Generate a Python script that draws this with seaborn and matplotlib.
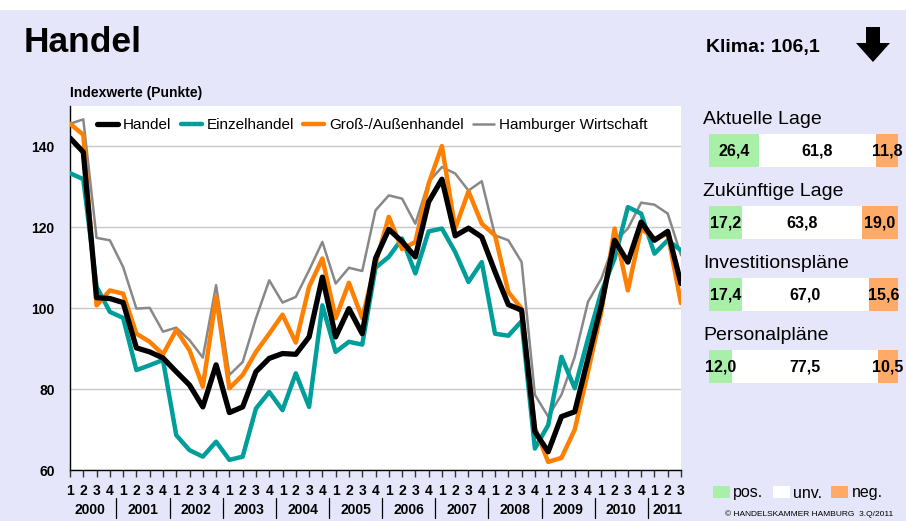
"""
Handel - Konjunkturklima chart
"""

import numpy as np
import pandas as pd
import seaborn as sns
import matplotlib.pyplot as plt
from matplotlib.patches import Rectangle, Polygon, Patch

# ---- data ----
quarters = ['1', '2', '3', '4'] * 11 + ['1', '2', '3']
years = ['2000', '2001', '2002', '2003', '2004', '2005', '2006', '2007',
         '2008', '2009', '2010', '2011']

handel = [142.1, 138.6, 102.6, 102.4, 101.4, 90.2, 89.2, 87.7, 84.3, 81.0, 75.6, 86.0,
          74.2, 75.6, 84.3, 87.6, 88.8, 88.6, 92.9, 107.7, 92.9, 99.9, 93.7, 112.3,
          119.5, 116.5, 112.7, 126.3, 131.9, 117.9, 119.8, 117.6, 109.0, 100.9, 99.5,
          69.5, 64.5, 73.2, 74.4, 87.6, 100.7, 116.8, 111.4, 121.3, 116.8, 119.0, 106.1]
einzel = [133.4, 131.9, 105.3, 99.1, 97.6, 84.7, 85.9, 87.2, 68.6, 64.9, 63.3, 67.0,
          62.5, 63.3, 75.2, 79.3, 74.8, 83.9, 75.6, 100.7, 89.2, 91.7, 91.0, 110.0,
          112.7, 117.2, 108.6, 119.0, 119.7, 113.9, 106.5, 111.4, 93.7, 93.2, 96.8,
          65.3, 71.1, 88.0, 80.2, 92.5, 104.0, 112.3, 125.0, 123.4, 113.5, 116.8, 114.3]
gross = [145.6, 142.9, 100.7, 104.4, 103.6, 93.7, 91.7, 88.6, 94.6, 89.6, 80.6, 102.8,
         80.2, 83.5, 89.2, 93.7, 98.4, 91.5, 105.3, 112.3, 97.5, 106.3, 97.5, 111.0,
         122.6, 114.6, 116.4, 130.8, 140.1, 119.7, 128.9, 120.9, 118.0, 104.0, 99.9,
         70.4, 62.0, 63.0, 70.0, 84.3, 99.1, 119.7, 104.4, 119.7, 117.2, 118.4, 101.2]
hamburg = [145.6, 146.7, 117.4, 116.8, 110.2, 99.9, 100.1, 94.2, 95.2, 92.1, 87.8, 105.7,
           83.5, 86.7, 97.5, 106.9, 101.4, 102.8, 109.4, 116.4, 106.1, 110.0, 109.2, 124.2,
           127.9, 127.1, 120.9, 131.2, 134.9, 133.3, 129.1, 131.4, 118.0, 116.8, 111.4,
           78.6, 73.2, 78.6, 88.0, 101.6, 107.3, 116.4, 119.7, 126.1, 125.6, 123.4, 113.1]

categories = ['Aktuelle Lage', 'Zukünftige Lage', 'Investitionspläne', 'Personalpläne']
pos = [26.4, 17.2, 17.4, 12.0]
unv = [61.8, 63.8, 67.0, 77.5]
neg = [11.8, 19.0, 15.6, 10.5]

# ---- style ----
sns.set_style('white')
plt.rcParams['font.family'] = ['Liberation Sans', 'DejaVu Sans']
plt.rcParams['text.color'] = 'black'
plt.rcParams['xtick.color'] = 'black'
plt.rcParams['ytick.color'] = 'black'
plt.rcParams['axes.labelcolor'] = 'black'

BG = '#E6E6FA'
TEAL = '#009E9A'
ORANGE = '#FF7F00'
GREEN = '#A8F0A8'
LORANGE = '#FFAA66'

W, H = 906, 521
fig = plt.figure(figsize=(W / 100, H / 100), dpi=100, facecolor=BG)
fig.patches.append(Rectangle((0, 1 - 10 / H), 1, 10 / H, transform=fig.transFigure,
                             facecolor='white', edgecolor='none', zorder=0))


def fx(px):
    return px / W


def fy(py):
    return 1 - py / H


# ---- line chart ----
ax = fig.add_axes([fx(70), fy(470), fx(681) - fx(70), fy(106) - fy(470)])
ax.set_facecolor('white')

df = pd.DataFrame({'t': np.arange(len(handel)), 'Handel': handel, 'Einzelhandel': einzel,
                   'Groß-/Außenhandel': gross, 'Hamburger Wirtschaft': hamburg})

sns.lineplot(data=df, x='t', y='Hamburger Wirtschaft', ax=ax, color='#888888', lw=1.8,
             label='Hamburger Wirtschaft', zorder=2)
sns.lineplot(data=df, x='t', y='Einzelhandel', ax=ax, color=TEAL, lw=3.2,
             label='Einzelhandel', zorder=3)
sns.lineplot(data=df, x='t', y='Groß-/Außenhandel', ax=ax, color=ORANGE, lw=3.2,
             label='Groß-/Außenhandel', zorder=4)
sns.lineplot(data=df, x='t', y='Handel', ax=ax, color='black', lw=3.8,
             label='Handel', zorder=5)

ax.set_xlim(0, len(handel) - 1)
ax.set_ylim(60, 150)
ax.set_yticks([60, 80, 100, 120, 140])
ax.set_xticks(df['t'])
ax.set_xticklabels(quarters)
ax.set_xlabel('')
ax.set_ylabel('')
for s in ['top', 'right']:
    ax.spines[s].set_visible(False)
for s in ['left', 'bottom']:
    ax.spines[s].set_color('black')
    ax.spines[s].set_linewidth(1.0)
ax.grid(axis='y', color='#C8C8C8', lw=1.0)
ax.set_axisbelow(True)
ax.tick_params(axis='y', length=0, pad=11, labelsize=10)
ax.tick_params(axis='x', length=5, width=1, color='#333333', direction='out', pad=5,
               labelsize=10, bottom=True)
for lab in ax.get_xticklabels() + ax.get_yticklabels():
    lab.set_fontweight('bold')

# year labels and separators
tr = ax.get_xaxis_transform()
for k, yr in enumerate(years):
    idx = [i for i in range(len(handel)) if i // 4 == k]
    ax.text(np.mean(idx), -0.11, yr, transform=tr, ha='center', va='center',
            fontsize=10, fontweight='bold')
    if k > 0:
        ax.plot([4 * k - 0.5] * 2, [-0.077, -0.132], transform=tr, color='black',
                lw=0.9, clip_on=False)

h, l = ax.get_legend_handles_labels()
order = ['Handel', 'Einzelhandel', 'Groß-/Außenhandel', 'Hamburger Wirtschaft']
hl = dict(zip(l, h))
leg = ax.legend([hl[o] for o in order], order, loc='upper left', ncol=4, frameon=False,
                bbox_to_anchor=(27 / 611, 1 - 12 / 364), borderaxespad=0, borderpad=0,
                fontsize=11, handlelength=1.4, handletextpad=0.3, columnspacing=0.6)
for line in leg.get_lines():
    line.set_solid_capstyle('round')

fig.text(fx(70), fy(93), 'Indexwerte (Punkte)', fontsize=10, fontweight='bold',
         ha='left', va='center')

# ---- header ----
fig.text(fx(24), fy(43), 'Handel', fontsize=25.5, fontweight='bold', ha='left', va='center')
fig.text(fx(706), fy(47), 'Klima: 106,1', fontsize=14, fontweight='bold',
         ha='left', va='center')
arrow = [(866, 27), (880, 27), (880, 43), (890, 43), (873, 62), (856, 43), (866, 43)]
fig.patches.append(Polygon([(fx(x), fy(y)) for x, y in arrow], closed=True,
                           transform=fig.transFigure, facecolor='black', edgecolor='none'))

# ---- right panel: stacked bars ----
bh = 33 / 72
ax2 = fig.add_axes([fx(709), fy(383), fx(898) - fx(709), fy(134) - fy(383)])
ax2.set_facecolor(BG)
ypos = np.arange(len(categories))
left_unv = np.array(pos)
left_neg = np.array(pos) + np.array(unv)
ax2.barh(ypos, pos, height=bh, color=GREEN, edgecolor='none')
ax2.barh(ypos, unv, left=left_unv, height=bh, color='white', edgecolor='none')
ax2.barh(ypos, neg, left=left_neg, height=bh, color=LORANGE, edgecolor='none')
ax2.set_xlim(0, 100)
ax2.set_ylim(len(categories) - 1 + bh / 2, -bh / 2)
ax2.axis('off')


def fmt(v):
    return f'{v:.1f}'.replace('.', ',')


for i, cat in enumerate(categories):
    ax2.text(-3.2, i - 0.37, cat, fontsize=14, ha='left', va='baseline', clip_on=False)
    ax2.text(pos[i] / 2, i, fmt(pos[i]), fontsize=11.5, fontweight='bold',
             ha='center', va='center')
    ax2.text(left_unv[i] + unv[i] / 2, i, fmt(unv[i]), fontsize=11.5, fontweight='bold',
             ha='center', va='center')
    ax2.text(left_neg[i] + neg[i] / 2, i, fmt(neg[i]), fontsize=11.5, fontweight='bold',
             ha='center', va='center')

handles = [Patch(facecolor=GREEN, edgecolor='none'), Patch(facecolor='white', edgecolor='none'),
           Patch(facecolor=LORANGE, edgecolor='none')]
fig.legend(handles, ['pos.', 'unv.', 'neg.'], loc='center left', ncol=3, frameon=False,
           bbox_to_anchor=(fx(713), fy(493)), borderaxespad=0, borderpad=0, fontsize=11.5,
           handlelength=1.05, handleheight=0.7, handletextpad=0.2, columnspacing=0.6)

fig.text(fx(893), fy(514), '© HANDELSKAMMER HAMBURG  3.Q/2011', fontsize=6,
         ha='right', va='center')

fig.savefig('out.png', dpi=100, facecolor=BG)
